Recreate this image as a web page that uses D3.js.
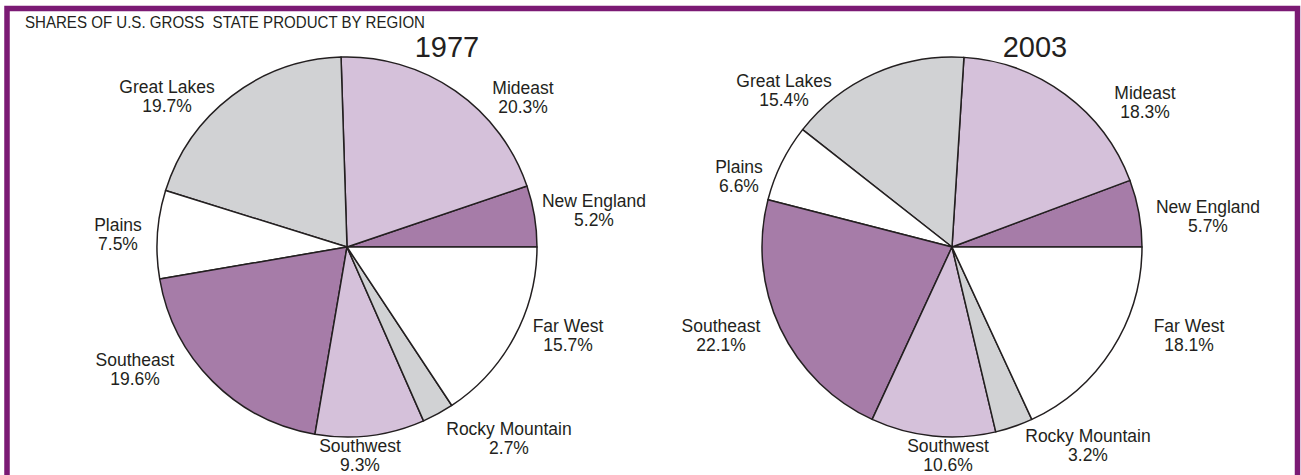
<!DOCTYPE html>
<html>
<head>
<meta charset="utf-8">
<script src="https://cdn.jsdelivr.net/npm/d3@7"></script>
<style>
  html, body { margin: 0; padding: 0; background: #fff; }
  svg { display: block; }
  text { font-family: "Liberation Sans", Arial, Helvetica, sans-serif; fill: #231f20; }
</style>
</head>
<body>
<svg id="chart" width="1301" height="475"></svg>
<script>
// ---- data ----
const regions = ["New England", "Mideast", "Great Lakes", "Plains", "Southeast", "Southwest", "Rocky Mountain", "Far West"];
const shares1977 = [5.2, 20.3, 19.7, 7.5, 19.6, 9.3, 2.7, 15.7];
const shares2003 = [5.7, 18.3, 15.4, 6.6, 22.1, 10.6, 3.2, 18.1];
const years = ["1977", "2003"];
const title = "SHARES OF U.S. GROSS  STATE PRODUCT BY REGION";

// ---- styling / layout (separate from data) ----
const fills = ["#a67ca8", "#d5c1da", "#d1d2d4", "#ffffff", "#a67ca8", "#d5c1da", "#d1d2d4", "#ffffff"];
const pies = [
  { cx: 347, cy: 247, r: 190, yearX: 447, yearY: 57,
    labels: [[594, 207], [523, 94], [167, 93], [118, 231], [135, 366], [360, 452], [509, 435], [568, 332]] },
  { cx: 952, cy: 247, r: 190, yearX: 1035, yearY: 57,
    labels: [[1208, 213], [1145, 99], [784, 87], [739, 173], [721, 332], [948, 452], [1088, 442], [1189, 332]] }
];
const seriesList = [shares1977, shares2003];

const svg = d3.select("#chart");

// frame
svg.append("rect")
  .attr("x", 7).attr("y", 8.5)
  .attr("width", 1290.5).attr("height", 500)
  .attr("fill", "none")
  .attr("stroke", "#7b1a74")
  .attr("stroke-width", 5.5);

// title
svg.append("text")
  .attr("x", 25).attr("y", 28)
  .attr("font-size", 17)
  .attr("textLength", 400)
  .attr("lengthAdjust", "spacingAndGlyphs")
  .attr("xml:space", "preserve")
  .style("white-space", "pre")
  .text(title);

const pie = d3.pie().sort(null)
  .startAngle(Math.PI / 2)
  .endAngle(Math.PI / 2 - 2 * Math.PI);

pies.forEach((p, i) => {
  const vals = seriesList[i];
  const arcs = pie(vals);
  const arc = d3.arc().innerRadius(0).outerRadius(p.r);
  const g = svg.append("g").attr("transform", `translate(${p.cx},${p.cy})`);
  g.selectAll("path").data(arcs).join("path")
    .attr("d", arc)
    .attr("fill", (d, j) => fills[j])
    .attr("stroke", "#231f20")
    .attr("stroke-width", 1.5)
    .attr("stroke-linejoin", "round");

  svg.append("text")
    .attr("x", p.yearX).attr("y", p.yearY)
    .attr("text-anchor", "middle")
    .attr("font-size", 29)
    .text(years[i]);

  const lab = svg.append("g");
  regions.forEach((name, j) => {
    const [lx, ly] = p.labels[j];
    const t = lab.append("text")
      .attr("x", lx).attr("y", ly)
      .attr("text-anchor", "middle")
      .attr("font-size", 17.5);
    t.append("tspan").attr("x", lx).attr("y", ly).text(name);
    t.append("tspan").attr("x", lx).attr("y", ly + 19).text(d3.format(".1f")(vals[j]) + "%");
  });
});
</script>
</body>
</html>
